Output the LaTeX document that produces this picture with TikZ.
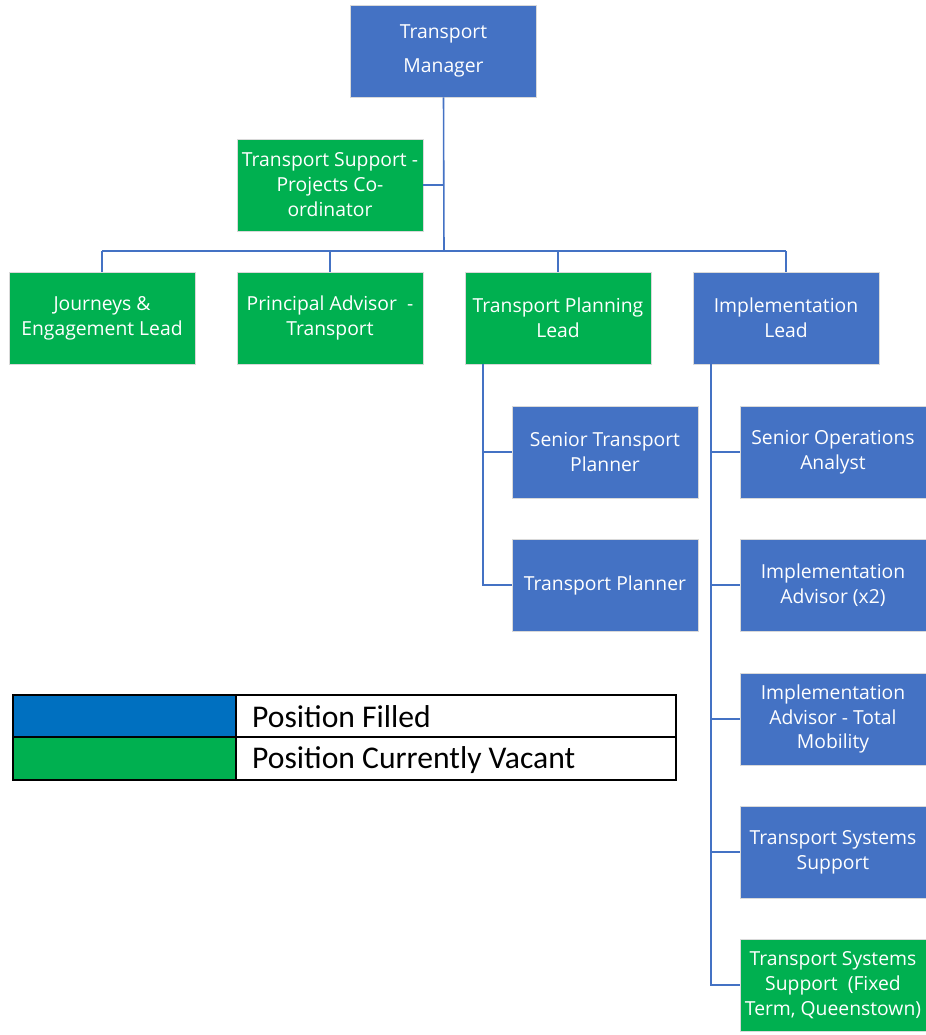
\documentclass[tikz,border=0pt]{standalone}
\usepackage{fontspec}
\setmainfont{Open Sans}
\newfontfamily\legendfont{Carlito}
\definecolor{filledblue}{HTML}{4472C4}
\definecolor{vacantgreen}{HTML}{00B050}
\definecolor{legendblue}{HTML}{0070C0}

\begin{document}
\begin{tikzpicture}[x=0.02cm, y=-0.02cm,
    role/.style={draw=white!85!black, line width=0.4pt, text=white, align=center,
      minimum width=3.72cm, minimum height=1.84cm, inner sep=1pt,
      font=\fontsize{11}{14.2}\selectfont},
    filled/.style={role, fill=filledblue},
    vacant/.style={role, fill=vacantgreen},
    link/.style={draw=filledblue, line width=0.9pt}]

  \useasboundingbox (0,0) rectangle (926,1035);

  % top of the tree
  \node[filled] (mgr) at (443.5,51) {Transport\\[5.5pt]Manager};
  \node[vacant] (supp) at (330,185) {Transport Support -\\Projects Co-\\ordinator};

  % second row
  \node[vacant] (jel) at (102,318) {Journeys \&\\Engagement Lead};
  \node[vacant] (pat) at (330,318) {Principal Advisor \ -\\Transport};
  \node[vacant] (tpl) at (558,318) {Transport Planning\\Lead};
  \node[filled] (iml) at (786,318) {Implementation\\Lead};

  % under planning
  \node[filled] (stp) at (605,452) {Senior Transport\\Planner};
  \node[filled] (tp) at (605,585) {Transport Planner};

  % under implementation
  \node[filled] (soa) at (833,452) {Senior Operations\\Analyst};
  \node[filled] (ia) at (833,585) {Implementation\\Advisor (x2)};
  \node[filled] (iatm) at (833,719) {Implementation\\Advisor - Total\\Mobility};
  \node[filled] (tss) at (833,852) {Transport Systems\\Support};
  \node[vacant] (tssq) at (833,985) {Transport Systems\\Support \ (Fixed\\Term, Queenstown)};

  \coordinate (hub) at (444,251);
  \coordinate (busL) at (102,251);
  \coordinate (busR) at (786,251);
  \coordinate (tplv) at (483,364);
  \coordinate (imlv) at (711,364);

  % connectors
  \draw[link] (mgr.south) -- (hub);
  \draw[link] (supp.east) -- (supp.east -| hub);
  \draw[link] (busL) -- (busR);
  \foreach \n in {jel,pat,tpl,iml}
    \draw[link] (\n.north) -- (\n.north |- hub);
  \draw[link] (tplv) |- (tp.west);
  \draw[link] (tplv |- stp.west) -- (stp.west);
  \draw[link] (imlv) |- (tssq.west);
  \foreach \n in {soa,ia,iatm,tss}
    \draw[link] (imlv |- \n.west) -- (\n.west);

  % legend
  \fill[legendblue] (13,695) rectangle (236,737);
  \fill[vacantgreen] (13,737) rectangle (236,780);
  \draw[black, line width=0.6pt] (13,695) rectangle (676,780);
  \draw[black, line width=0.6pt] (13,737) -- (676,737);
  \draw[black, line width=0.6pt] (236,695) -- (236,780);
  \node[anchor=west, font=\legendfont\fontsize{18}{20}\selectfont] (pf) at (246,717) {Position Filled};
  \node[anchor=west, font=\legendfont\fontsize{18}{20}\selectfont] (pcv) at (246,760) {Position Currently Vacant};

\end{tikzpicture}
\end{document}
